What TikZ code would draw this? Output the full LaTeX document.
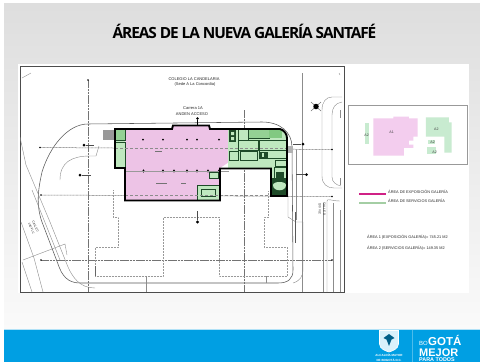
\documentclass[tikz,border=0pt]{standalone}
\usepackage{fontspec}
\setmainfont{Liberation Sans}
\newfontfamily\titlefont[LetterSpace=-7]{Open Sans}
\definecolor{pinkA}{HTML}{EDC3E6}
\definecolor{pinkB}{HTML}{F3CDEE}
\definecolor{greenA}{HTML}{BFE8BF}
\definecolor{greenB}{HTML}{C8EBD0}
\definecolor{dkgreen}{HTML}{1E4A28}
\definecolor{blueband}{HTML}{009FE3}
\tikzset{
 x=1pt,y=-1pt,
 grid/.style={draw=black!55,line width=.5pt,dash pattern=on 1.6pt off .5pt on .6pt off .5pt},
 outl/.style={draw=black!40,line width=.5pt,densely dotted},
 site/.style={draw=black!65,line width=.55pt},
 thin gray/.style={draw=black!45,line width=.4pt},
 wall/.style={draw=black,line width=1.9pt,line join=miter},
 room/.style={draw=dkgreen,line width=.6pt},
 tiny/.style={font=\fontsize{4}{4.5}\selectfont,text=black!85,inner sep=0pt},
 street/.style={font=\fontsize{3}{4.5}\selectfont,text=black!85,inner sep=0pt,align=center},
 leg/.style={font=\fontsize{3.85}{4.5}\selectfont,text=black!85,inner sep=0pt,anchor=west},
 ins/.style={font=\fontsize{3.6}{4}\selectfont,text=black!75,inner sep=0pt},
 dot/.style={circle,fill=black,inner sep=0pt,minimum size=2.6pt},
 logo/.style={text=white,inner sep=0pt,font=\bfseries\sffamily},
}
\setsansfont{Liberation Sans}
\begin{document}
\begin{tikzpicture}
\useasboundingbox (0,0) rectangle (480,362);
\fill[white] (0,0) rectangle (480,362);
\shade[top color=black!13,bottom color=black!2] (4,3) rectangle (480,329);
% panels
\fill[white] (18,64) rectangle (469,293);
\draw[black!70,line width=.8pt] (20,66) rectangle (344,292);
% inset
\draw[black!40,line width=.6pt] (348.3,105.7) rectangle (467.5,164);
\begin{scope}[shift={(340,90)},x=.3333pt,y=-.3333pt]
\fill[greenB] (75,98) rectangle (88,162);
\fill[pinkB] (100,85)--(160,85)--(160,80)--(207,80)--(207,85)--(233,85)--(233,140)--(220,140)--(220,152)--(207,152)--(207,164)--(220,164)--(220,174)--(192,174)--(192,197)--(100,197)--cycle;
\fill[greenB] (258,82)--(327,82)--(327,97)--(335,97)--(335,188)--(313,188)--(313,140)--(258,140)--cycle;
\fill[greenB] (263,150) rectangle (285,162);
\fill[greenB] (260,170) rectangle (289,193);
\node[ins] (ia1) at (155,128) {A1};
\node[ins] (ia2a) at (80,137) {A2};
\node[ins] (ia2b) at (289,117) {A2};
\node[ins] (ia2c) at (278,156) {A2};
\node[ins] (ia2d) at (284,186) {A2};
\end{scope}
% legend
\fill[magenta!70!violet] (359,192.6) rectangle (386,194.6);
\fill[green!30!gray!55] (359,202) rectangle (386,204);
\node[leg] (l1) at (388,192) {ÁREA DE EXPOSICIÓN GALERÍA};
\node[leg] (l2) at (388,201.3) {ÁREA DE SERVICIOS GALERÍA};
\node[leg] (l3) at (367,237) {ÁREA 1 (EXPOSICIÓN GALERÍA)= 745.21 M2};
\node[leg] (l4) at (367,248.5) {ÁREA 2 (SERVICIOS GALERÍA)= 149.35 M2};
% title
\node[inner sep=0pt,font=\titlefont\fontsize{15.4}{17}\selectfont\bfseries] (title) at (244.5,31) {ÁREAS DE LA NUEVA GALERÍA SANTAFÉ};
% site lines
\begin{scope}
\clip (20,66) rectangle (344,292);
\draw[site] (88,124)--(262,122) .. controls (280,122) and (292,132) .. (292,147)--(293,270) .. controls (293,279) and (288,283) .. (278,283)--(80,283) .. controls (68,283) and (62,276) .. (58,264)--(42,222) .. controls (36,205) and (38,190) .. (42,172) .. controls (50,146) and (68,124) .. (88,124);
\draw[thin gray] (20,137)--(26,165)--(50,222)--(66,262) .. controls (72,278) and (80,288) .. (95,288);
\draw[thin gray] (32,190)--(60,260);
\draw[thin gray] (21,222)--(34,258)--(43,292);
\draw[thin gray] (23,260)--(65,244)--(67,255);
\draw[thin gray] (32,292)--(22,262);
\draw[thin gray] (60,180) .. controls (60,162) and (72,156) .. (90,156)--(96,156)--(99,146);
% grid
\draw[grid] (88,80)--(88,292);
\draw[grid] (244,110)--(244,292);
\draw[thin gray,line width=.6pt] (302,73)--(302,292);
\draw[thin gray] (296,150)--(296,220);
\draw[thin gray] (323,292)--(323,203);
\draw[thin gray] (327,292)--(327,201) .. controls (327,198) and (332,201) .. (340,201);
\draw[thin gray] (340,210)--(340,292);
\draw[thin gray] (333,292)--(333,203);
\draw[grid] (40,147.5)--(332,149.5);
\draw[grid] (41,195)--(332,196.5);
\draw[grid] (41,260)--(332,260);
% road east
\draw[thin gray] (342,97)--(332,97) .. controls (326,97) and (322,102) .. (322,110)--(322,176) .. controls (322,184) and (327,188) .. (334,188)--(342,188);
\draw[thin gray] (342,102) .. controls (335,103) and (332,108) .. (332,115)--(332,177) .. controls (332,182) and (336,185) .. (341,186);
\draw[thin gray] (340,110)--(340,118) (340,178)--(340,185);
% loop south-east
\draw[thin gray] (288,190)--(288,217)--(296,222)--(303,222);
\draw[black!65,line width=.6pt] (295,212)--(295,243);
\draw[thin gray] (293,283) .. controls (300,281) and (303,276) .. (303,270)--(303,222);
% inner dotted outline
\draw[outl] (113,190)--(113,217)--(118,217)--(118,247)--(95,247)--(95,276)--(163,276)--(163,217)--(219,217)--(219,276)--(287,276)--(287,247)--(264,247)--(264,217)--(268,217)--(268,190);
\draw[thin gray] (146,276)--(146,292);
\draw[thin gray] (266,276)--(266,283);
\draw[black!60,line width=.5pt] (95,266)--(95,276);
\node[dot,minimum size=1.8pt] (d1) at (40,147.5) {};
\node[dot,minimum size=1.8pt] (d2) at (41,195) {};
\node[dot,minimum size=1.8pt] (d3) at (41,260) {};
\node[dot,minimum size=1.8pt] (d4) at (332,149.5) {};
\node[dot,minimum size=1.8pt] (d5) at (332,196.5) {};
\node[dot,minimum size=1.8pt] (d6) at (332,260) {};
\node[dot,minimum size=1.8pt] (d7) at (88,80) {};
\node[dot,minimum size=3pt] (d8) at (84,145) {};
\node[dot,minimum size=3pt] (d9) at (80,175) {};
\coordinate (e8) at (94,145);
\coordinate (e9) at (91,175);
\draw[black!70,line width=.5pt] (d8)--(e8) (d9)--(e9);
\node[dot,minimum size=3.2pt] (d10) at (197.5,222) {};
\coordinate (e10) at (197.5,211);
\draw[black!70,line width=.5pt] (d10)--(e10);
\node[dot,minimum size=3pt] (d11) at (303,144) {};
\node[dot,minimum size=3pt] (d12) at (306.5,174.5) {};
\coordinate (e11) at (293,144);
\coordinate (e12) at (296,174.5);
\draw[black!70,line width=.5pt] (d11)--(e11) (d12)--(e12);
\draw[black!55,line width=.5pt] (311,111)--(321,102) (311,102)--(321,111);
\node[dot,minimum size=5.5pt] (d13b) at (316,106.5) {};
\end{scope}
\draw[black!50,line width=.3pt] (31,73)--(22,78) (339,73)--(340,75);
% labels on plan
\node[tiny] (c1) at (194,79) {COLEGIO LA CANDELARIA};
\node[tiny] (c2) at (195,84) {(Sede A La Concordia)};
\node[tiny] (c3) at (193,108) {Carrera 1A};
\node[tiny] (c4) at (192,114.5) {ANDEN ACCESO};
\node[street,rotate=-66] (c5) at (33.5,227.5) {CALLE C\\100 VLC};
\node[street,rotate=-90] (c6) at (322.2,209) {CALLE D\\100 VLC};
% gray ramps
\fill[black!40] (103,130) rectangle (115,140);
\fill[black!30] (286,146) rectangle (293,153);
% building fills
\fill[pinkA] (115,129)--(172,129)--(173,125)--(209,125)--(210,129)--(229,129)--(229,162)--(220,168)--(220,200)--(125,200)--(125,168)--(115,168)--cycle;
\fill[greenA] (228,129)--(280,129) .. controls (284,130) and (287,134) .. (287,138)--(287,196)--(271,196)--(271,168)--(228,168)--cycle;
\fill[greenA] (115,129) rectangle (125,168);
\fill[greenA] (197,185) rectangle (220,200);
\fill[greenA] (209,172) rectangle (218,178);
% rooms
\draw[room,fill=green!40!gray!60] (115,129) rectangle (125,140);
\draw[room] (115,142) rectangle (125,168);
\draw[room] (197,185) rectangle (219,200);
\draw[room] (201,189) rectangle (215,196);
\draw[room] (209,172) rectangle (218,178);
\fill[dkgreen] (229,129) rectangle (236,142);
\fill[greenA] (231,132) rectangle (234,135) (231,137) rectangle (234,140);
\draw[room] (238,129) rectangle (248,140);
\draw[room,fill=green!40!gray!60] (248,129) rectangle (269,138);
\fill[green!40!gray!70] (269,129) rectangle (282,138);
\draw[room] (238,140) rectangle (258,150);
\draw[room] (259,140) rectangle (286,150);
\draw[room] (259,150) rectangle (286,158);
\draw[room] (229,151) rectangle (238,160);
\draw[room] (240,151) rectangle (257,160);
\fill[dkgreen] (260,152) rectangle (268,158);
\fill[greenA] (262,153) rectangle (264,157);
\draw[room] (275,160) rectangle (286,166);
\draw[room] (274,167) rectangle (286,178);
\fill[dkgreen] (276,172) rectangle (284,178);
\fill[dkgreen] (272,178) rectangle (287,196);
\path[fill=greenA] (273,185) .. controls (273,181) and (286,181) .. (286,185) .. controls (286,192) and (273,192) .. (273,185);
% column dots
\foreach \cx in {143,163,187,197,219}{\fill[black] (\cx,139.5) circle (1pt);}
\foreach \cx in {143.5,163,174,187,197,208,219}{\fill[black] (\cx,171) ellipse (1.1pt and 1.7pt);}
\draw[black!40,line width=.3pt] (125,171)--(229,171);
\draw[black!45,line width=.3pt,densely dashed] (115,148)--(287,148) (125,195)--(271,195);
\draw[black!55,line width=.5pt] (155,151)--(162,151) (156,183)--(167,183) (181,183)--(186,183);
% walls
\draw[wall] (115,129)--(172,129)--(173,125.5)--(209,125.5)--(210,129)--(280,129) .. controls (284,130) and (287,134) .. (287,138)--(287,196)--(271,196)--(271,168.5)--(220,168.5)--(220,200.5)--(125,200.5)--(125,168)--(115,168)--cycle;
\node[dot,minimum size=2.6pt] (acc) at (197.5,118.5) {};
\coordinate (acce) at (197.5,125);
\draw[black,line width=.6pt] (acc)--(acce);
% footer
\fill[blueband] (4,329) rectangle (480,362);
\draw[white!70!blueband,line width=.5pt] (4,329)--(480,329);
% logo
\draw[white,line width=.6pt,fill=white!85!blueband] (379.5,330.5)--(398.5,330.5)--(398.5,344) .. controls (398.5,349) and (392,351) .. (389,352) .. controls (386,351) and (379.5,349) .. (379.5,344)--cycle;
\fill[blueband!60!black] (389,334)--(394.5,338)--(391.5,339.5)--(389,346)--(386.5,339.5)--(383.5,338)--cycle;
\node[logo,font=\bfseries\sffamily\fontsize{3}{3.5}\selectfont] (m1) at (389,355.5) {ALCALDÍA MAYOR};
\node[logo,font=\bfseries\sffamily\fontsize{3}{3.5}\selectfont] (m2) at (389,360) {DE BOGOTÁ D.C.};
\draw[white!30!blueband,line width=.6pt] (412,330)--(412,362);
\node[logo,anchor=base west,font=\sffamily\fontsize{6}{7}\selectfont] (b1) at (419,345.5) {BO};
\node[logo,anchor=base west,font=\bfseries\sffamily\fontsize{11.5}{12}\selectfont] (b2) at (428,345.5) {GOTÁ};
\node[logo,anchor=base west,font=\bfseries\sffamily\fontsize{11}{12}\selectfont] (b3) at (419,356.3) {MEJOR};
\node[logo,anchor=base west,font=\bfseries\sffamily\fontsize{5.4}{6}\selectfont] (b4) at (419,361.6) {PARA TODOS};
\end{tikzpicture}
\end{document}
